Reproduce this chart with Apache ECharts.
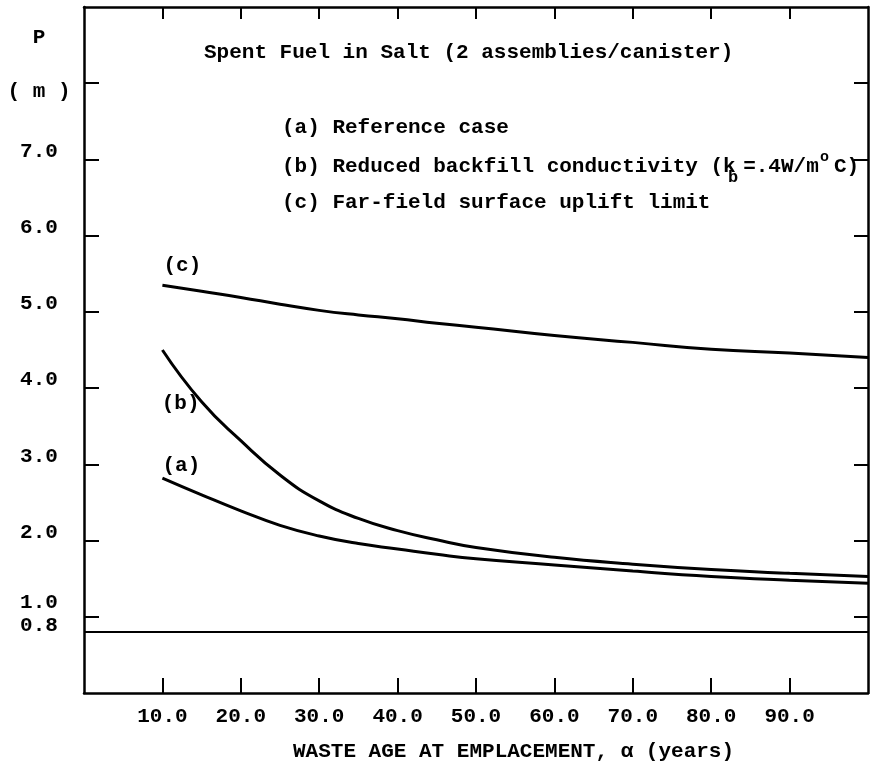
<!DOCTYPE html>
<html>
<head>
<meta charset="utf-8">
<title>Spent Fuel in Salt</title>
<script src="https://cdn.jsdelivr.net/npm/echarts@6/dist/echarts.min.js"></script>
<style>
  html, body { margin: 0; padding: 0; background: #fff; }
  #chart { width: 876px; height: 769px; }
</style>
</head>
<body>
<div id="chart"></div>
<script>
// Waste age at emplacement (years) and the three P curves (m)
const ageYears = [10, 15, 20, 25, 30, 35, 40, 45, 50, 60, 70, 80, 90, 100];
const caseA = [2.82, 2.60, 2.39, 2.20, 2.06, 1.96, 1.89, 1.82, 1.76, 1.68, 1.60, 1.53, 1.48, 1.44];
const caseB = [4.50, 3.82, 3.31, 2.86, 2.52, 2.29, 2.13, 2.01, 1.91, 1.78, 1.69, 1.62, 1.57, 1.53];
const caseC = [5.35, 5.27, 5.19, 5.10, 5.02, 4.96, 4.91, 4.85, 4.80, 4.69, 4.60, 4.51, 4.46, 4.40];
const floorLevel = 0.8;

// Axis ticks and labels
const xTickValues = [10, 20, 30, 40, 50, 60, 70, 80, 90];
const xTickLabels = ['10.0', '20.0', '30.0', '40.0', '50.0', '60.0', '70.0', '80.0', '90.0'];
const yTickValues = [1, 2, 3, 4, 5, 6, 7, 8];
const yLabelValues = [0.8, 1, 2, 3, 4, 5, 6, 7, 8, 8.6];
const yLabelTexts = ['0.8', '1.0', '2.0', '3.0', '4.0', '5.0', '6.0', '7.0', '( m )', 'P'];
const yLabelStyles = ['lo', 'hi', 'up', 'up', 'up', 'up', 'up', 'up', 'dn', 'plain'];

// Texts
const chartTitle = 'Spent Fuel in Salt (2 assemblies/canister)';
const xAxisTitle = 'WASTE AGE AT EMPLACEMENT, \u03b1 (years)';
const noteA = '(a) Reference case';
const noteB = ['(b) Reduced backfill conductivity (k', 'b', '=.4W/m', 'o', 'C)'];
const noteC = '(c) Far-field surface uplift limit';
const curveTags = ['(a)', '(b)', '(c)'];

const FONT = '"Liberation Mono", "DejaVu Sans Mono", monospace';
const FS = 21;
const PITCH = FS * 0.6;

function pairs(ys) { return ageYears.map((x, i) => [x, ys[i]]); }

function tagged(ys, idx, text, labelCfg) {
  const d = pairs(ys);
  d[idx] = {
    value: d[idx],
    label: Object.assign({
      show: true, formatter: text, color: '#000',
      fontFamily: FONT, fontSize: FS, fontWeight: 'bold'
    }, labelCfg)
  };
  return d;
}

const chart = echarts.init(document.getElementById('chart'), null, { renderer: 'canvas' });

const lineStyle = { color: '#000', width: 3 };
const baseSeries = {
  type: 'line',
  smooth: 0.5,
  symbol: 'circle',
  symbolSize: 0.1,
  showSymbol: true,
  itemStyle: { color: 'transparent' },
  lineStyle: lineStyle,
  silent: true,
  z: 3
};

function txt(x, y, text, extra) {
  return {
    type: 'text', x: x, y: y, silent: true,
    style: Object.assign({ text: text, fill: '#000', fontFamily: FONT, fontSize: FS, fontWeight: 'bold', verticalAlign: 'middle', align: 'left' }, extra || {})
  };
}

const noteX = 282;
const graphics = [
  txt(204, 53, chartTitle),
  txt(noteX, 128, noteA),
  txt(noteX, 167, noteB[0]),
  txt(noteX + 35.4 * PITCH, 178, noteB[1], { fontSize: 17 }),
  txt(noteX + 36.6 * PITCH, 167, noteB[2]),
  txt(noteX + 42.7 * PITCH, 157, noteB[3], { fontSize: 15 }),
  txt(noteX + 43.8 * PITCH, 167, noteB[4]),
  txt(noteX, 203, noteC),
  txt(293, 752, xAxisTitle)
];

const option = {
  animation: false,
  backgroundColor: '#fff',
  grid: { left: 84, right: 8, top: 7, bottom: 76, containLabel: false },
  xAxis: [
    {
      type: 'value', position: 'bottom', min: 0, max: 100, interval: 10,
      axisLine: { show: true, onZero: false, lineStyle: { color: '#000', width: 2.5 } },
      axisTick: { show: true, inside: true, length: 15, customValues: xTickValues, lineStyle: { color: '#000', width: 2 } },
      axisLabel: {
        show: true, customValues: xTickValues, margin: 13,
        formatter: (v) => xTickLabels[xTickValues.indexOf(v)] || '',
        color: '#000', fontFamily: FONT, fontSize: FS, fontWeight: 'bold'
      },
      splitLine: { show: false }
    },
    {
      type: 'value', position: 'top', min: 0, max: 100, interval: 10,
      axisLine: { show: true, onZero: false, lineStyle: { color: '#000', width: 2.5 } },
      axisTick: { show: true, inside: true, length: 12, customValues: xTickValues, lineStyle: { color: '#000', width: 2 } },
      axisLabel: { show: false },
      splitLine: { show: false }
    }
  ],
  yAxis: [
    {
      type: 'value', position: 'left', min: 0, max: 9, interval: 1,
      axisLine: { show: true, onZero: false, lineStyle: { color: '#000', width: 2.5 } },
      axisTick: { show: true, inside: true, length: 15, customValues: yTickValues, lineStyle: { color: '#000', width: 2 } },
      axisLabel: {
        show: true, customValues: yLabelValues, margin: 45, align: 'center',
        formatter: (v) => {
          const i = yLabelValues.indexOf(v);
          return i < 0 ? '' : '{' + yLabelStyles[i] + '|' + yLabelTexts[i] + '}';
        },
        color: '#000', fontFamily: FONT, fontSize: FS, fontWeight: 'bold',
        rich: {
          up: { fontFamily: FONT, fontSize: FS, fontWeight: 'bold', color: '#000', padding: [0, 0, 16, 0] },
          hi: { fontFamily: FONT, fontSize: FS, fontWeight: 'bold', color: '#000', padding: [0, 0, 28, 0] },
          lo: { fontFamily: FONT, fontSize: FS, fontWeight: 'bold', color: '#000', padding: [0, 0, 12, 0] },
          dn: { fontFamily: FONT, fontSize: FS, fontWeight: 'bold', color: '#000', padding: [16, 0, 0, 0] },
          plain: { fontFamily: FONT, fontSize: FS, fontWeight: 'bold', color: '#000' }
        }
      },
      splitLine: { show: false }
    },
    {
      type: 'value', position: 'right', min: 0, max: 9, interval: 1,
      axisLine: { show: true, onZero: false, lineStyle: { color: '#000', width: 2.5 } },
      axisTick: { show: true, inside: true, length: 14, customValues: yTickValues, lineStyle: { color: '#000', width: 2 } },
      axisLabel: { show: false },
      splitLine: { show: false }
    }
  ],
  series: [
    Object.assign({}, baseSeries, {
      name: 'Reference case',
      data: tagged(caseA, 0, curveTags[0], { position: 'top', distance: 5, offset: [19, 3] }),
      markLine: {
        silent: true, symbol: 'none', label: { show: false },
        lineStyle: { color: '#000', width: 2.2, type: 'solid' },
        data: [{ yAxis: floorLevel }]
      }
    }),
    Object.assign({}, baseSeries, {
      name: 'Reduced backfill conductivity',
      data: tagged(caseB, 1, curveTags[1], { position: 'left', distance: 5, offset: [3, 2] })
    }),
    Object.assign({}, baseSeries, {
      name: 'Far-field surface uplift limit',
      data: tagged(caseC, 0, curveTags[2], { position: 'top', distance: 5, offset: [20, -4] })
    })
  ],
  graphic: graphics
};

chart.setOption(option);
</script>
</body>
</html>
